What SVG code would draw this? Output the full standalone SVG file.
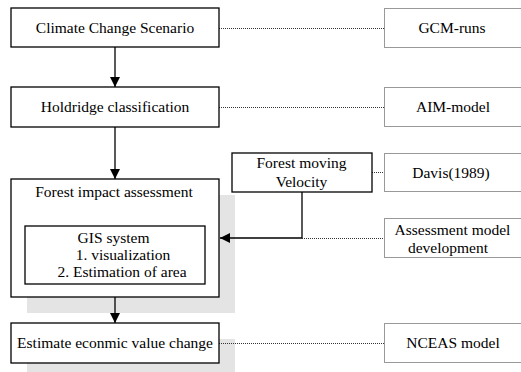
<svg xmlns="http://www.w3.org/2000/svg" width="521" height="372" viewBox="0 0 521 372" font-family="'Liberation Serif', 'DejaVu Serif', serif">
  <style>
    text { font-family: "Liberation Serif", "DejaVu Serif", serif; font-size: 15.5px; fill: #000; text-anchor: middle; }
    .main { fill: #fff; stroke: #000; stroke-width: 1.3; }
    .ref { fill: #fff; stroke: #333; stroke-width: 1; stroke-dasharray: 1 1; }
    .shadow { fill: #e4e4e4; stroke: none; }
    .flow { fill: none; stroke: #000; stroke-width: 1.3; }
    .link { fill: none; stroke: #333; stroke-width: 1; stroke-dasharray: 1 1; }
  </style>
  <defs>
    <marker id="arrow" viewBox="0 0 10 10" refX="10" refY="5" markerWidth="10" markerHeight="10" markerUnits="userSpaceOnUse" orient="auto">
      <path d="M0,0 L10,5 L0,10 Z" fill="#000"/>
    </marker>
  </defs>

  <!-- drop shadows behind the lower main boxes -->
  <g id="shadows">
    <rect class="shadow" x="27" y="195" width="208" height="118"/>
    <rect class="shadow" x="27" y="339" width="208" height="40"/>
  </g>

  <!-- connectors -->
  <g id="connectors">
    <line class="flow" x1="115" y1="47" x2="115" y2="87" marker-end="url(#arrow)"/>
    <line class="flow" x1="115" y1="127" x2="115" y2="179" marker-end="url(#arrow)"/>
    <line class="flow" x1="115" y1="297" x2="115" y2="323" marker-end="url(#arrow)"/>
    <polyline class="flow" points="302,192 302,238 220,238" marker-end="url(#arrow)"/>
    <line class="link" x1="219" y1="28.5" x2="384" y2="28.5"/>
    <line class="link" x1="219" y1="107.5" x2="384" y2="107.5"/>
    <line class="link" x1="372" y1="172.5" x2="384" y2="172.5"/>
    <line class="link" x1="302" y1="238.5" x2="384" y2="238.5"/>
    <line class="link" x1="219" y1="343.5" x2="384" y2="343.5"/>
  </g>

  <g id="climate-scenario">
    <rect class="main" x="11" y="8" width="208" height="39"/>
    <text x="115" y="33">Climate Change Scenario</text>
  </g>

  <g id="holdridge">
    <rect class="main" x="11" y="87" width="208" height="40"/>
    <text x="115" y="112">Holdridge classification</text>
  </g>

  <g id="forest-impact">
    <rect class="main" x="11" y="179" width="208" height="118"/>
    <text x="114" y="197">Forest impact assessment</text>
  </g>

  <g id="gis-system">
    <rect class="main" x="25" y="226" width="180" height="58" stroke-width="1"/>
    <text x="113.5" y="243">GIS system</text>
    <text x="123" y="260">1. visualization</text>
    <text x="122" y="277">2. Estimation of area</text>
  </g>

  <g id="economic-value">
    <rect class="main" x="11" y="323" width="208" height="40"/>
    <text x="115" y="348">Estimate econmic value change</text>
  </g>

  <g id="forest-velocity">
    <rect class="main" x="232" y="153" width="140" height="39" stroke-width="1.1"/>
    <text x="301.5" y="168">Forest moving</text>
    <text x="301.5" y="187">Velocity</text>
  </g>

  <g id="gcm-runs">
    <rect class="ref" x="384.5" y="8.5" width="145" height="39"/>
    <text x="452" y="33">GCM-runs</text>
  </g>

  <g id="aim-model">
    <rect class="ref" x="384.5" y="87.5" width="145" height="39"/>
    <text x="453" y="112">AIM-model</text>
  </g>

  <g id="davis">
    <rect class="ref" x="384.5" y="153.5" width="145" height="38"/>
    <text x="451" y="178">Davis(1989)</text>
  </g>

  <g id="assessment-model">
    <rect class="ref" x="384.5" y="218.5" width="145" height="39"/>
    <text x="452.5" y="235">Assessment model</text>
    <text x="448" y="253">development</text>
  </g>

  <g id="nceas">
    <rect class="ref" x="384.5" y="323.5" width="145" height="39"/>
    <text x="453" y="348">NCEAS model</text>
  </g>
</svg>
